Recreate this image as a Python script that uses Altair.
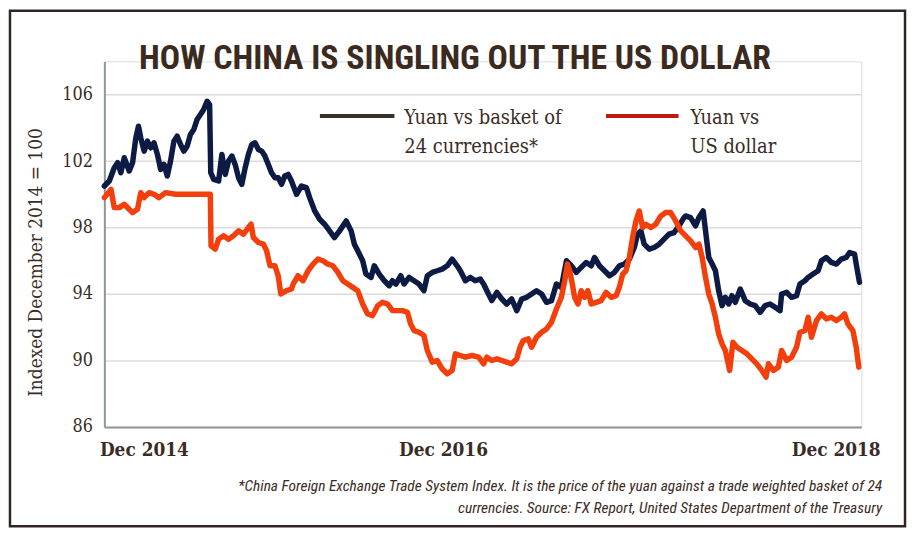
import altair as alt
import pandas as pd

# ---------------- data (months since Dec 2014, index value) ----------------
basket_m = [0.00, 0.35, 0.70, 0.94, 1.17, 1.41, 1.76, 2.00, 2.23, 2.42, 2.58, 2.82, 3.05, 3.29, 3.52, 3.76,
            3.99, 4.23, 4.46, 4.69, 4.93, 5.16, 5.40, 5.63, 5.87, 6.10, 6.34, 6.57, 6.81, 7.04, 7.28, 7.46,
            7.54, 7.75, 8.10, 8.33, 8.57, 8.80, 9.04, 9.27, 9.51, 9.74, 9.98, 10.21, 10.45, 10.68, 10.92,
            11.15, 11.38, 11.62, 11.85, 12.09, 12.32, 12.56, 12.79, 13.03, 13.26, 13.62, 13.97, 14.32,
            14.55, 14.91, 15.26, 15.61, 15.96, 16.31, 16.67, 17.14, 17.49, 17.72, 17.96, 18.31, 18.54,
            18.90, 19.13, 19.48, 19.84, 20.19, 20.42, 20.66, 21.01, 21.24, 21.60, 21.95, 22.30, 22.65,
            22.89, 23.24, 23.59, 23.94, 24.30, 24.65, 25.00, 25.23, 25.59, 25.94, 26.29, 26.64, 26.88,
            27.11, 27.46, 27.82, 28.17, 28.52, 28.87, 29.23, 29.58, 29.93, 30.28, 30.63, 30.99, 31.34,
            31.69, 32.04, 32.39, 32.75, 33.10, 33.45, 33.80, 34.15, 34.51, 34.74, 35.09, 35.45, 35.80,
            36.15, 36.50, 36.85, 37.21, 37.56, 37.79, 38.03, 38.26, 38.62, 38.97, 39.32, 39.67, 40.02,
            40.38, 40.73, 41.08, 41.20, 41.55, 41.90, 42.14, 42.44, 42.61, 42.84, 43.08, 43.31, 43.54,
            43.78, 44.01, 44.25, 44.48, 44.72, 45.07, 45.42, 45.77, 46.13, 46.48, 46.83, 47.18, 47.54,
            47.89, 48.00, 48.36, 48.71, 49.06, 49.30, 49.65, 49.88, 50.23, 50.59, 50.82, 51.17, 51.53,
            51.88, 52.23, 52.58, 52.82, 53.17, 53.29, 53.52]
basket_v = [100.5, 100.8, 101.6, 101.9, 101.3, 102.2, 101.4, 101.9, 103.4, 104.1, 103.4, 102.6, 103.2, 102.8,
            103.1, 102.4, 101.5, 101.8, 101.1, 102.0, 103.2, 103.5, 103.0, 102.6, 102.9, 103.6, 103.9,
            104.5, 104.8, 105.1, 105.6, 105.4, 101.3, 100.9, 100.8, 102.4, 101.2, 102.0, 102.3, 101.8,
            101.0, 100.6, 101.6, 102.4, 103.0, 103.1, 102.7, 102.6, 102.3, 101.8, 101.3, 101.0, 101.0,
            100.6, 101.1, 101.2, 100.8, 100.0, 100.5, 100.4, 99.8, 99.0, 98.5, 98.2, 97.8, 97.4, 97.8,
            98.4, 97.8, 97.0, 96.6, 96.0, 95.2, 95.0, 95.7, 95.2, 94.8, 94.5, 94.8, 94.6, 95.1, 94.6,
            95.0, 94.8, 94.6, 94.2, 95.1, 95.3, 95.4, 95.5, 95.7, 96.1, 95.7, 95.4, 94.8, 95.0, 94.8,
            94.9, 94.6, 94.2, 93.6, 94.1, 93.7, 93.4, 93.7, 93.0, 93.7, 93.8, 94.0, 94.2, 94.0, 93.5,
            93.6, 94.6, 94.4, 96.0, 95.7, 95.3, 95.6, 95.9, 95.7, 96.2, 95.7, 95.4, 95.1, 95.3, 95.7,
            95.8, 96.1, 96.8, 97.6, 97.8, 97.0, 96.7, 96.8, 97.0, 97.3, 97.6, 97.7, 98.1, 98.6, 98.7,
            98.6, 98.1, 98.6, 99.0, 97.8, 96.2, 95.8, 95.4, 94.2, 93.3, 93.8, 93.4, 93.9, 93.5, 94.3,
            93.6, 93.4, 93.3, 92.9, 93.3, 93.4, 93.2, 93.0, 94.0, 94.1, 93.8, 93.9, 94.6, 94.8, 95.0,
            95.2, 95.4, 96.0, 96.2, 95.9, 95.8, 96.1, 96.2, 96.5, 96.4, 95.8, 94.7]

usd_m = [0.00, 0.47, 0.70, 1.06, 1.41, 1.76, 2.00, 2.35, 2.58, 2.82, 3.17, 3.52, 3.87, 4.34, 5.05, 5.75,
         6.69, 7.51, 7.56, 7.86, 8.10, 8.45, 8.80, 9.15, 9.51, 9.86, 10.21, 10.40, 10.56, 10.92, 11.27,
         11.50, 11.74, 12.09, 12.32, 12.51, 12.91, 13.26, 13.38, 13.73, 14.08, 14.44, 14.79, 15.14,
         15.49, 15.85, 16.20, 16.55, 16.90, 17.25, 17.61, 17.96, 18.31, 18.66, 19.01, 19.37, 19.72,
         20.07, 20.42, 20.77, 21.13, 21.48, 21.71, 21.95, 22.30, 22.65, 22.89, 23.24, 23.59, 23.94,
         24.30, 24.65, 24.88, 25.23, 25.59, 26.06, 26.53, 26.88, 27.11, 27.46, 27.82, 28.17, 28.52,
         28.87, 29.23, 29.46, 29.69, 30.05, 30.28, 30.63, 30.99, 31.34, 31.69, 32.04, 32.39, 32.63,
         32.82, 32.98, 33.17, 33.33, 33.57, 33.80, 34.04, 34.27, 34.51, 34.86, 35.21, 35.56, 35.92,
         36.27, 36.50, 36.74, 36.97, 37.21, 37.44, 37.68, 37.91, 38.15, 38.38, 38.73, 39.08, 39.44,
         39.79, 40.14, 40.49, 40.85, 41.20, 41.55, 41.90, 42.14, 42.37, 42.61, 42.84, 43.08, 43.31,
         43.54, 43.78, 44.01, 44.32, 44.55, 44.84, 45.19, 45.54, 45.89, 46.24, 46.60, 46.90, 47.07,
         47.42, 47.77, 48.00, 48.36, 48.71, 49.06, 49.30, 49.65, 49.88, 50.12, 50.47, 50.82, 51.17,
         51.53, 51.88, 52.23, 52.46, 52.70, 53.05, 53.29, 53.47]
usd_v = [99.8, 100.3, 99.2, 99.2, 99.4, 99.1, 98.9, 99.1, 100.1, 99.8, 100.1, 100.0, 99.8, 100.1, 100.0,
         100.0, 100.0, 100.0, 96.9, 96.7, 97.3, 97.5, 97.3, 97.5, 97.8, 97.6, 98.0, 98.2, 97.4, 97.1,
         97.0, 96.6, 95.7, 95.7, 95.1, 94.0, 94.2, 94.3, 94.6, 95.1, 94.8, 95.4, 95.8, 96.1, 96.0, 95.8,
         95.7, 95.3, 94.8, 94.6, 94.4, 94.2, 93.4, 92.8, 92.7, 93.3, 93.5, 93.4, 93.0, 93.0, 93.0, 92.9,
         92.2, 91.8, 91.7, 91.5, 90.6, 89.9, 90.0, 89.5, 89.2, 89.4, 90.4, 90.3, 90.2, 90.3, 90.2, 89.8,
         90.2, 90.0, 90.1, 90.0, 89.9, 89.8, 90.1, 90.8, 91.2, 91.3, 90.8, 91.4, 91.7, 91.9, 92.3, 93.1,
         93.8, 94.8, 95.8, 95.4, 94.6, 93.8, 93.4, 94.2, 93.8, 94.2, 93.4, 93.5, 93.6, 94.1, 93.8, 93.9,
         94.4, 95.2, 95.4, 96.2, 97.4, 98.4, 99.0, 98.0, 98.2, 98.0, 98.2, 98.7, 98.9, 98.9, 98.4, 97.8,
         97.5, 97.2, 96.8, 97.0, 96.2, 95.0, 94.0, 93.4, 92.6, 91.6, 91.0, 90.6, 89.4, 91.1, 90.8, 90.6,
         90.4, 90.1, 89.8, 89.4, 89.0, 89.8, 89.4, 89.6, 90.6, 90.0, 90.2, 90.8, 91.7, 91.8, 92.6, 91.4,
         92.4, 92.8, 92.5, 92.6, 92.4, 92.6, 92.8, 92.2, 91.8, 90.8, 89.6]

series_names = ["Yuan vs basket of 24 currencies*", "Yuan vs US dollar"]
legend_lines = [["Yuan vs basket of", "24 currencies*"], ["Yuan vs", "US dollar"]]
y_ticks = [86, 90, 94, 98, 102, 106]
x_tick_pos = [0, 24, 53.65]
x_tick_labels = ["Dec 2014", "Dec 2016", "Dec 2018"]
title_text = "HOW CHINA IS SINGLING OUT THE US DOLLAR"
y_title = "Indexed December 2014 = 100"
footnote = ["*China Foreign Exchange Trade System Index. It is the price of the yuan against a trade weighted basket of 24",
            "currencies.  Source: FX Report, United States  Department of the Treasury"]

# ---------------- styles ----------------
NAVY = "#0c1a44"
RED = "#f23f0c"
TEXT = "#3a2c24"
SERIF = "DejaVu Serif Condensed, DejaVu Serif"
NARROW = "Roboto Condensed, DejaVu Sans Condensed"
W, H = 762, 368

df = pd.concat([
    pd.DataFrame({"m": basket_m, "v": basket_v, "s": series_names[0]}),
    pd.DataFrame({"m": usd_m, "v": usd_v, "s": series_names[1]}),
])

label_expr = " : ".join(
    f"datum.value == {p} ? '{l}'" for p, l in zip(x_tick_pos[:-1], x_tick_labels[:-1])
) + f" : '{x_tick_labels[-1]}'"

x_enc = alt.X("m:Q", scale=alt.Scale(domain=[0, 53.65], nice=False, zero=False),
              axis=alt.Axis(values=x_tick_pos, labelExpr=label_expr, title=None, grid=False,
                            ticks=False, tickSize=0, domainColor="#8f9696", domainWidth=2,
                            labelFont=SERIF, labelFontSize=19, labelFontWeight="bold",
                            labelColor=TEXT, labelPadding=29, labelBaseline="alphabetic",
                            labelFlush=True, labelFlushOffset=5,
                            labelOffset=alt.condition("datum.value > 50", alt.value(14), alt.value(0))))
y_enc = alt.Y("v:Q", scale=alt.Scale(domain=[86, 108], nice=False, zero=False),
              axis=alt.Axis(values=y_ticks, title=y_title, grid=True, gridColor="#dcdcdc",
                            gridWidth=1.5, ticks=False, tickSize=0, domainColor="#8f9696",
                            domainWidth=2, labelFont=SERIF, labelFontSize=18, labelColor=TEXT,
                            labelPadding=12, labelBaseline="middle",
                            titleFont=SERIF, titleFontSize=19, titleFontWeight="normal",
                            titleColor=TEXT, titleX=-63, titleY=202, titleAngle=270,
                            titleBaseline="alphabetic", titleAlign="center"))

lines = alt.Chart(df).mark_line(strokeWidth=5.5, strokeJoin="round", strokeCap="round").encode(
    x=x_enc, y=y_enc,
    color=alt.Color("s:N", scale=alt.Scale(domain=series_names, range=[NAVY, RED]), legend=None),
    order=alt.Order("m:Q"),
)

frame = alt.Chart(pd.DataFrame({"k": [0]})).mark_rect(
    fillOpacity=0, stroke="#2e2622", strokeWidth=2.5
).encode(x=alt.value(-95), x2=alt.value(806), y=alt.value(-51), y2=alt.value(468))


def text_layer(txt, x, y, size, font, weight="normal", align="left", style="normal", color=TEXT):
    return alt.Chart(pd.DataFrame({"t": [txt]})).mark_text(
        font=font, fontSize=size, fontWeight=weight, fontStyle=style, align=align,
        baseline="alphabetic", color=color
    ).encode(x=alt.value(x), y=alt.value(y), text="t:N")


title = text_layer(title_text, 353, 8, 34, NARROW, weight="bold", align="center", color="#3b2a20")

leg_rule1 = alt.Chart(pd.DataFrame({"s": [series_names[0]]})).mark_rule(
    strokeWidth=4, color="#3a302b").encode(x=alt.value(217), x2=alt.value(292), y=alt.value(55))
leg_rule2 = alt.Chart(pd.DataFrame({"s": [series_names[1]]})).mark_rule(
    strokeWidth=4, color="#c01a10").encode(x=alt.value(505), x2=alt.value(578), y=alt.value(55))
leg_texts = [
    text_layer(legend_lines[0][0], 302, 63, 20, SERIF),
    text_layer(legend_lines[0][1], 302, 92, 20, SERIF),
    text_layer(legend_lines[1][0], 590, 63, 20, SERIF),
    text_layer(legend_lines[1][1], 590, 92, 20, SERIF),
]
foot = [
    text_layer(footnote[0], 783, 432, 15.5, NARROW, align="right", style="italic"),
    text_layer(footnote[1], 783, 455, 15.5, NARROW, align="right", style="italic"),
]

chart = alt.layer(frame, lines, title, leg_rule1, leg_rule2, *leg_texts, *foot).properties(
    width=W, height=H,
    padding={"left": 97, "top": 52, "right": 47, "bottom": 102},
    autosize=alt.AutoSizeParams(type="none"),
).configure_view(stroke=None).configure(background="white")

chart.save("out.html", embed_options={"renderer": "svg", "actions": False})
